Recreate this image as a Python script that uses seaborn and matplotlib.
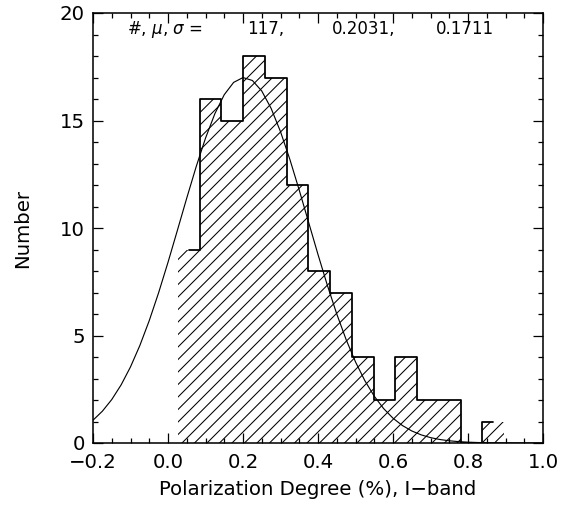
import numpy as np
import pandas as pd
import matplotlib
matplotlib.use("Agg")
import matplotlib.pyplot as plt
import seaborn as sns
from matplotlib.ticker import MultipleLocator

# I-band polarization degree: 15 equal-width bins
bin_start = 0.026
bin_width = 0.058
counts = [9, 16, 15, 18, 17, 12, 8, 7, 4, 2, 4, 2, 2, 0, 1]

# sample size, mean and standard deviation of the distribution
n_stars = 117
mean_pol = 0.2031
sigma_pol = 0.1711
# peak height of the overplotted Gaussian
gauss_peak = 17.0

x_ticks = [-0.2, 0.0, 0.2, 0.4, 0.6, 0.8, 1.0]
y_ticks = [0, 5, 10, 15, 20]

sns.set_theme(style="ticks")
plt.rcParams['font.family'] = ['DejaVu Sans']
plt.rcParams['hatch.linewidth'] = 1.0
plt.rcParams['hatch.color'] = 'black'

fig = plt.figure(figsize=(573 / 75, 518 / 75), dpi=75)
ax = fig.add_axes([93 / 573, 1 - 443 / 518, 450 / 573, 430 / 518])

edges = [bin_start + bin_width * k for k in range(len(counts) + 1)]
centers = [(a + b) / 2 for a, b in zip(edges[:-1], edges[1:])]
df = pd.DataFrame({"pol": centers, "n": counts})

# hatched area under the histogram
sns.histplot(data=df, x="pol", weights="n", bins=edges, element="step",
             fill=True, ax=ax)
poly = ax.collections[-1]
poly.set_facecolor("none")
poly.set_edgecolor("black")
poly.set_linewidth(0)
poly.set_hatch("//")

# histogram outline, stepping half-way between bin centres
sns.lineplot(x=centers, y=counts, drawstyle="steps-mid", color="black",
             lw=1.7, ax=ax)

# Gaussian with the quoted mean and sigma
xs = np.linspace(-0.2, 1.0, 49)
ys = gauss_peak * np.exp(-0.5 * ((xs - mean_pol) / sigma_pol) ** 2)
sns.lineplot(x=xs, y=ys, color="black", lw=1.1, ax=ax)

ax.set_xlim(-0.2, 1.0)
ax.set_ylim(0, 20)
ax.set_xticks(x_ticks)
ax.set_yticks(y_ticks)
ax.set_xticklabels([f"{v:.1f}".replace("-", "\u2212") for v in x_ticks])
ax.set_yticklabels([str(v) for v in y_ticks])
ax.xaxis.set_minor_locator(MultipleLocator(0.05))
ax.yaxis.set_minor_locator(MultipleLocator(1))
ax.tick_params(which="both", direction="in", top=True, right=True,
               color="black", width=1.2, labelsize=19, labelcolor="black")
ax.tick_params(which="major", length=10)
ax.tick_params(which="minor", length=5)
ax.tick_params(axis="x", which="major", pad=10)
ax.tick_params(axis="y", which="major", pad=8)
for s in ax.spines.values():
    s.set_visible(True)
    s.set_color("black")
    s.set_linewidth(1.5)

ax.set_xlabel("Polarization Degree (%), I\u2212band", fontsize=19,
              color="black", labelpad=7)
ax.set_ylabel("Number", fontsize=19, color="black", labelpad=26)

stat_kw = dict(transform=ax.transAxes, fontsize=16, color="black",
               va="center", ha="left")
ax.text(0.075, 0.962, r"#, $\mu$, $\sigma$ =", **stat_kw)
ax.text(0.342, 0.962, f"{n_stars},", **stat_kw)
ax.text(0.53, 0.962, f"{mean_pol:.4f},", **stat_kw)
ax.text(0.762, 0.962, f"{sigma_pol:.4f}", **stat_kw)

fig.savefig("out.png", dpi=75, facecolor="white")
